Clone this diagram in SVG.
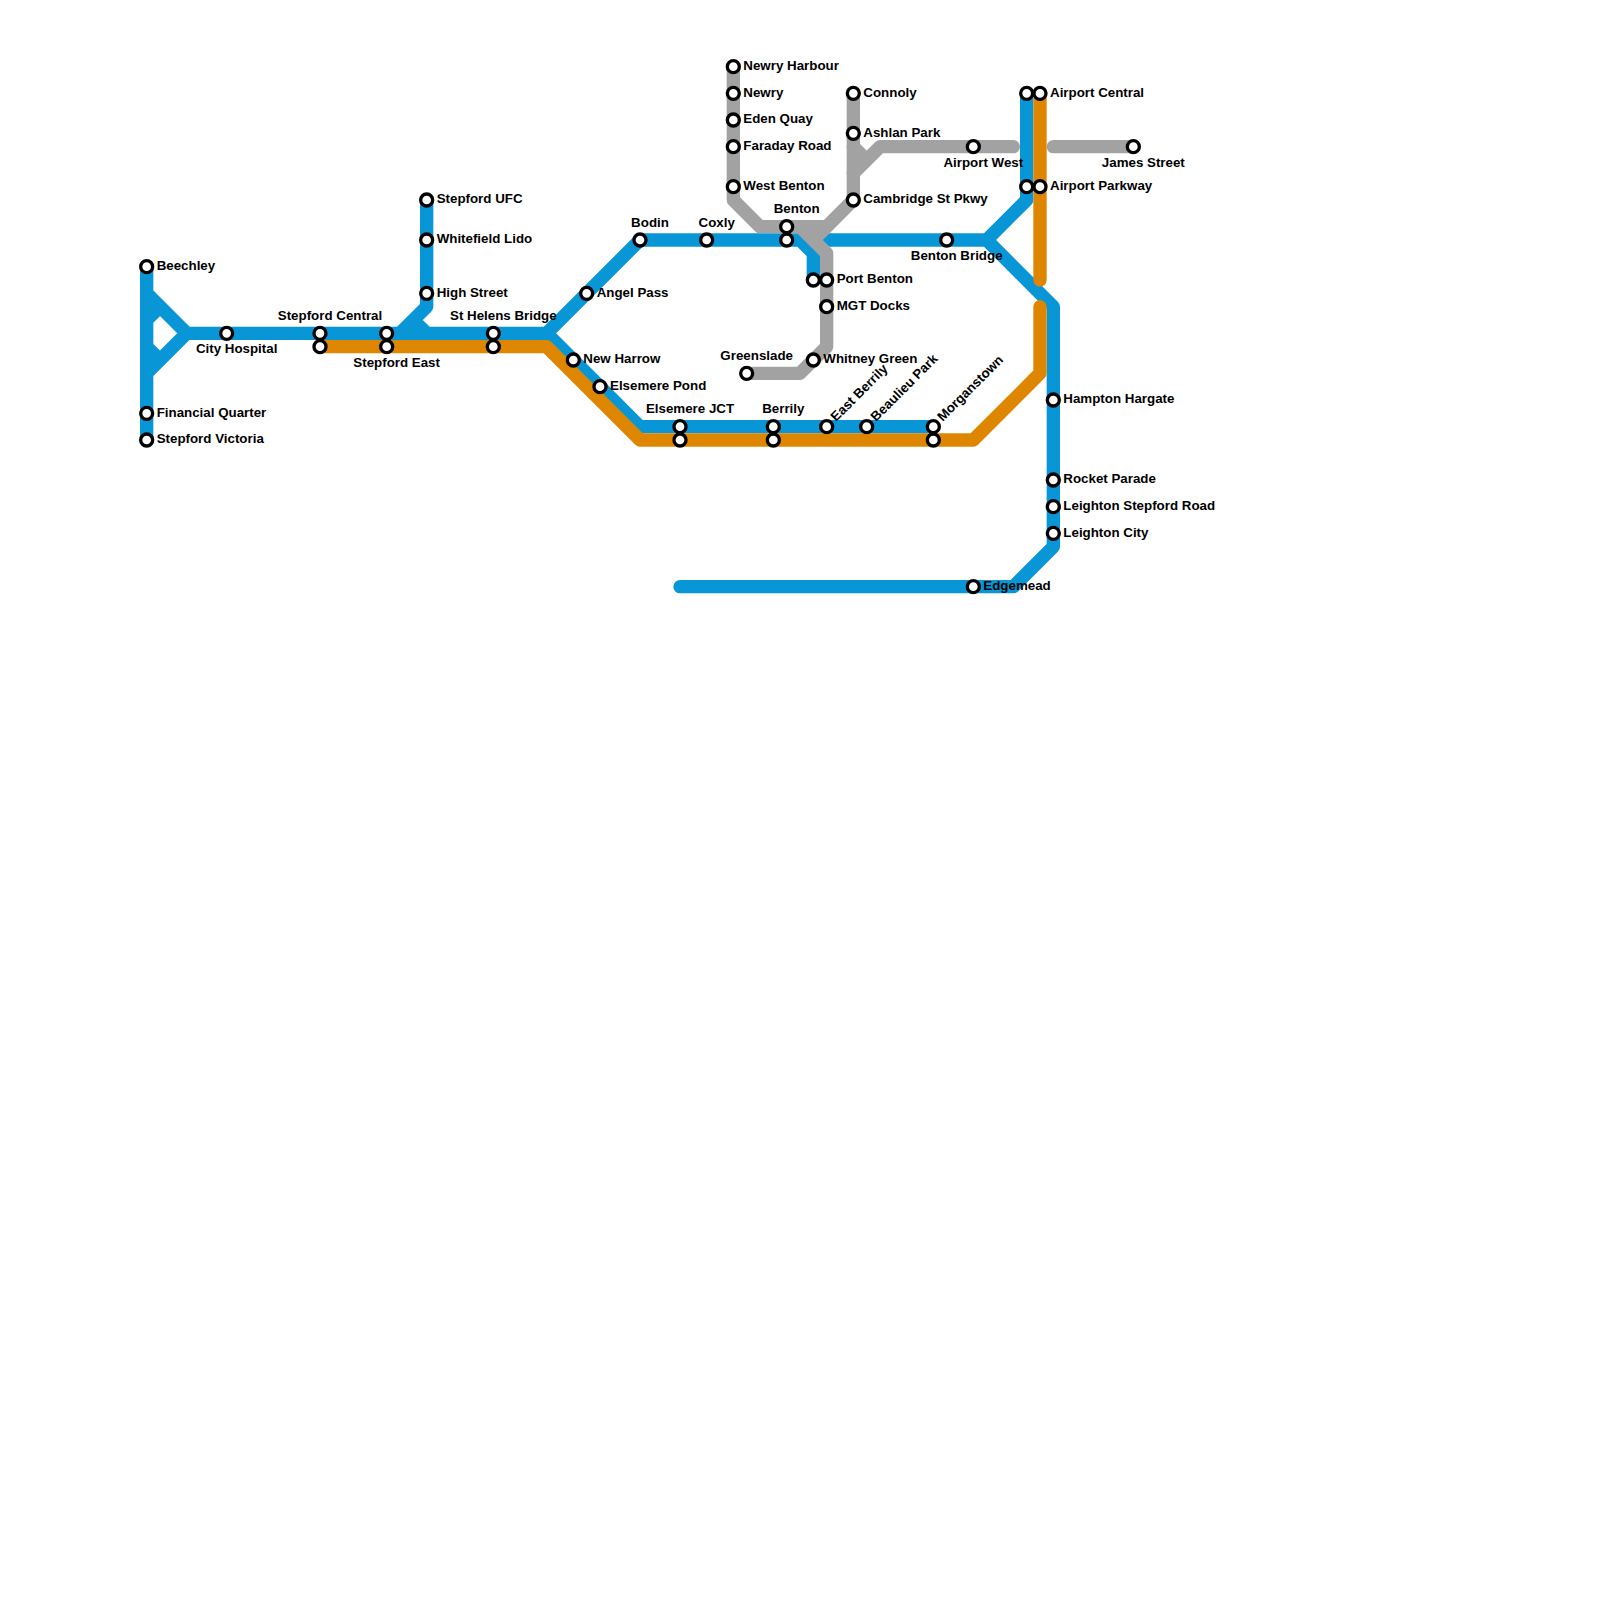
<svg xmlns="http://www.w3.org/2000/svg" width="1600" height="1600" viewBox="0 0 1600 1600">
<style>
.line{fill:none;stroke-width:13.33;stroke-linecap:round;stroke-linejoin:round}
.blue{stroke:#0896d7}.gray{stroke:#a2a2a2}.orange{stroke:#df8600}
.st{fill:#fff;stroke:#000;stroke-width:3.33}
text{font-family:"Liberation Sans",Arial,sans-serif;font-size:13.33px;font-weight:bold;fill:#000}
.m{text-anchor:middle}
</style>
<rect width="1600" height="1600" fill="#fff"/>
<g id="connectors">
<path class="line blue" d="M146.67 266.67V440M146.67 293.33L186.67 333.33L146.67 373.33M146.67 320L160 306.67M146.67 346.67L160 360"/>
<path class="line blue" d="M186.67 333.33H546.67L640 240H800L813.33 253.33V280"/>
<path class="line blue" d="M546.67 333.33L640 426.67H933.33"/>
<path class="line blue" d="M426.67 200V306.67L400 333.33M413.33 320L426.67 333.33"/>
<path class="line blue" d="M813.33 240H986.67L1026.67 200V93.33"/>
<path class="line blue" d="M986.67 240L1053.33 306.67V546.67L1013.33 586.67H680"/>
<path class="line gray" d="M733.33 66.67V200L760 226.67H826.67L853.33 200V93.33M826.67 226.67L813.33 240M800 226.67L826.67 253.33V346.67L800 373.33H746.67"/>
<path class="line gray" d="M853.33 146.67L866.67 160M853.33 173.33L880 146.67H1013.33M1053.33 146.67H1133.33"/>
<path class="line orange" d="M1040 93.33V280M1040 306.67V373.33L973.33 440H640L546.67 346.67H320"/>
</g>
<g id="n-beechley"><circle class="st" cx="146.67" cy="266.67" r="6"/><text x="156.67" y="270">Beechley</text></g>
<g id="n-financial-quarter"><circle class="st" cx="146.67" cy="413.33" r="6"/><text x="156.67" y="416.67">Financial Quarter</text></g>
<g id="n-stepford-victoria"><circle class="st" cx="146.67" cy="440" r="6"/><text x="156.67" y="443.33">Stepford Victoria</text></g>
<g id="n-city-hospital"><circle class="st" cx="226.67" cy="333.33" r="6"/><text class="m" x="236.67" y="353.33">City Hospital</text></g>
<g id="n-stepford-central"><circle class="st" cx="320" cy="333.33" r="6"/><circle class="st" cx="320" cy="346.67" r="6"/><text class="m" x="330" y="320">Stepford Central</text></g>
<g id="n-stepford-east"><circle class="st" cx="386.67" cy="333.33" r="6"/><circle class="st" cx="386.67" cy="346.67" r="6"/><text class="m" x="396.67" y="366.67">Stepford East</text></g>
<g id="n-st-helens-bridge"><circle class="st" cx="493.33" cy="333.33" r="6"/><circle class="st" cx="493.33" cy="346.67" r="6"/><text class="m" x="503.33" y="320">St Helens Bridge</text></g>
<g id="n-stepford-ufc"><circle class="st" cx="426.67" cy="200" r="6"/><text x="436.67" y="203.33">Stepford UFC</text></g>
<g id="n-whitefield-lido"><circle class="st" cx="426.67" cy="240" r="6"/><text x="436.67" y="243.33">Whitefield Lido</text></g>
<g id="n-high-street"><circle class="st" cx="426.67" cy="293.33" r="6"/><text x="436.67" y="296.67">High Street</text></g>
<g id="n-angel-pass"><circle class="st" cx="586.67" cy="293.33" r="6"/><text x="596.67" y="296.67">Angel Pass</text></g>
<g id="n-bodin"><circle class="st" cx="640" cy="240" r="6"/><text class="m" x="650" y="226.67">Bodin</text></g>
<g id="n-coxly"><circle class="st" cx="706.67" cy="240" r="6"/><text class="m" x="716.67" y="226.67">Coxly</text></g>
<g id="n-benton"><circle class="st" cx="786.67" cy="226.67" r="6"/><circle class="st" cx="786.67" cy="240" r="6"/><text class="m" x="796.67" y="213.33">Benton</text></g>
<g id="n-new-harrow"><circle class="st" cx="573.33" cy="360" r="6"/><text x="583.33" y="363.33">New Harrow</text></g>
<g id="n-elsemere-pond"><circle class="st" cx="600" cy="386.67" r="6"/><text x="610" y="390">Elsemere Pond</text></g>
<g id="n-elsemere-jct"><circle class="st" cx="680" cy="426.67" r="6"/><circle class="st" cx="680" cy="440" r="6"/><text class="m" x="690" y="413.33">Elsemere JCT</text></g>
<g id="n-berrily"><circle class="st" cx="773.33" cy="426.67" r="6"/><circle class="st" cx="773.33" cy="440" r="6"/><text class="m" x="783.33" y="413.33">Berrily</text></g>
<g id="n-east-berrily"><circle class="st" cx="826.67" cy="426.67" r="6"/><text transform="translate(826.67 426.67) rotate(-45)" x="10" y="3.33">East Berrily</text></g>
<g id="n-beaulieu-park"><circle class="st" cx="866.67" cy="426.67" r="6"/><text transform="translate(866.67 426.67) rotate(-45)" x="10" y="3.33">Beaulieu Park</text></g>
<g id="n-morganstown"><circle class="st" cx="933.33" cy="426.67" r="6"/><circle class="st" cx="933.33" cy="440" r="6"/><text transform="translate(933.33 426.67) rotate(-45)" x="10" y="3.33">Morganstown</text></g>
<g id="n-greenslade"><circle class="st" cx="746.67" cy="373.33" r="6"/><text class="m" x="756.67" y="360">Greenslade</text></g>
<g id="n-whitney-green"><circle class="st" cx="813.33" cy="360" r="6"/><text x="823.33" y="363.33">Whitney Green</text></g>
<g id="n-port-benton"><circle class="st" cx="813.33" cy="280" r="6"/><circle class="st" cx="826.67" cy="280" r="6"/><text x="836.67" y="283.33">Port Benton</text></g>
<g id="n-mgt-docks"><circle class="st" cx="826.67" cy="306.67" r="6"/><text x="836.67" y="310">MGT Docks</text></g>
<g id="n-newry-harbour"><circle class="st" cx="733.33" cy="66.67" r="6"/><text x="743.33" y="70">Newry Harbour</text></g>
<g id="n-newry"><circle class="st" cx="733.33" cy="93.33" r="6"/><text x="743.33" y="96.67">Newry</text></g>
<g id="n-eden-quay"><circle class="st" cx="733.33" cy="120" r="6"/><text x="743.33" y="123.33">Eden Quay</text></g>
<g id="n-faraday-road"><circle class="st" cx="733.33" cy="146.67" r="6"/><text x="743.33" y="150">Faraday Road</text></g>
<g id="n-west-benton"><circle class="st" cx="733.33" cy="186.67" r="6"/><text x="743.33" y="190">West Benton</text></g>
<g id="n-connoly"><circle class="st" cx="853.33" cy="93.33" r="6"/><text x="863.33" y="96.67">Connoly</text></g>
<g id="n-ashlan-park"><circle class="st" cx="853.33" cy="133.33" r="6"/><text x="863.33" y="136.67">Ashlan Park</text></g>
<g id="n-cambridge-st-pkwy"><circle class="st" cx="853.33" cy="200" r="6"/><text x="863.33" y="203.33">Cambridge St Pkwy</text></g>
<g id="n-airport-west"><circle class="st" cx="973.33" cy="146.67" r="6"/><text class="m" x="983.33" y="166.67">Airport West</text></g>
<g id="n-benton-bridge"><circle class="st" cx="946.67" cy="240" r="6"/><text class="m" x="956.67" y="260">Benton Bridge</text></g>
<g id="n-airport-central"><circle class="st" cx="1026.67" cy="93.33" r="6"/><circle class="st" cx="1040" cy="93.33" r="6"/><text x="1050" y="96.67">Airport Central</text></g>
<g id="n-airport-parkway"><circle class="st" cx="1026.67" cy="186.67" r="6"/><circle class="st" cx="1040" cy="186.67" r="6"/><text x="1050" y="190">Airport Parkway</text></g>
<g id="n-james-street"><circle class="st" cx="1133.33" cy="146.67" r="6"/><text class="m" x="1143.33" y="166.67">James Street</text></g>
<g id="n-hampton-hargate"><circle class="st" cx="1053.33" cy="400" r="6"/><text x="1063.33" y="403.33">Hampton Hargate</text></g>
<g id="n-rocket-parade"><circle class="st" cx="1053.33" cy="480" r="6"/><text x="1063.33" y="483.33">Rocket Parade</text></g>
<g id="n-leighton-stepford-road"><circle class="st" cx="1053.33" cy="506.67" r="6"/><text x="1063.33" y="510">Leighton Stepford Road</text></g>
<g id="n-leighton-city"><circle class="st" cx="1053.33" cy="533.33" r="6"/><text x="1063.33" y="536.67">Leighton City</text></g>
<g id="n-edgemead"><circle class="st" cx="973.33" cy="586.67" r="6"/><text x="983.33" y="590">Edgemead</text></g>
</svg>
